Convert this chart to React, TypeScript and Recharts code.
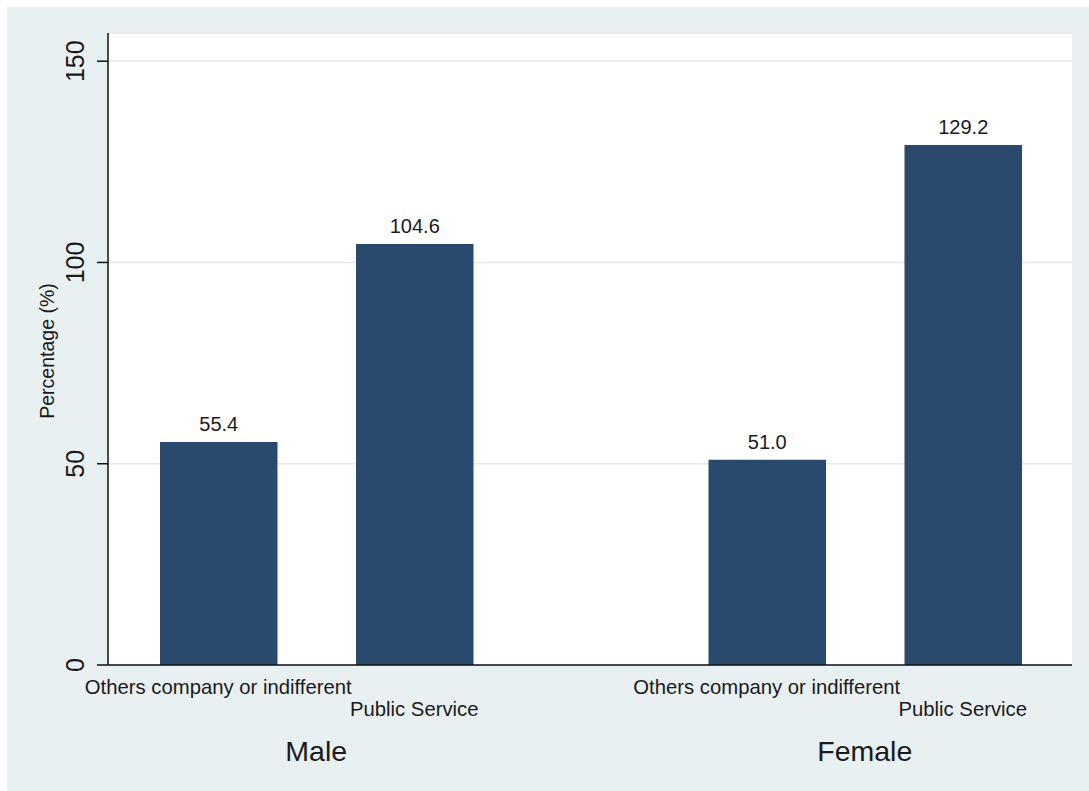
import * as React from 'react'
import { Bar, BarChart, CartesianGrid, LabelList, XAxis, YAxis } from 'recharts'

const groups = ['Male', 'Female']
const subLabels = ['Others company or indifferent', 'Public Service']
const othersValues = [55.4, 51.0]
const publicValues = [104.6, 129.2]
const yTicks = [0, 50, 100, 150]

const data = groups.map((g, i) => ({
  group: g,
  others: othersValues[i],
  publicService: publicValues[i],
}))

const FONT = '"Liberation Sans", Arial, Helvetica, sans-serif'
const BAR_COLOR = '#294a6d'
const TEXT = '#1a1a1a'
const BAR_SIZE = 117.5
const BAR_GAP = 78.5
const HALF_STEP = (BAR_SIZE + BAR_GAP) / 2

function GroupTick(props: any) {
  const { x, y, payload } = props
  return (
    <g fontFamily={FONT} fill={TEXT}>
      <text x={x - HALF_STEP} y={y + 28.5} textAnchor="middle" fontSize={20.3}>
        {subLabels[0]}
      </text>
      <text x={x + HALF_STEP} y={y + 50.7} textAnchor="middle" fontSize={20.3}>
        {subLabels[1]}
      </text>
      <text x={x} y={y + 96} textAnchor="middle" fontSize={28.5}>
        {payload.value}
      </text>
    </g>
  )
}

function ValueTick(props: any) {
  const { x, y, payload } = props
  const bx = x - 13
  return (
    <text
      x={bx}
      y={y}
      transform={`rotate(-90, ${bx}, ${y})`}
      textAnchor="middle"
      fontSize={25}
      fontFamily={FONT}
      fill={TEXT}
    >
      {payload.value}
    </text>
  )
}

function AxisTitle(props: any) {
  const vb = props.viewBox || { x: 0, y: 26, width: 101, height: 632 }
  const tx = vb.x + 47
  const ty = vb.y + vb.height / 2 + 2
  return (
    <text
      x={tx}
      y={ty}
      transform={`rotate(-90, ${tx}, ${ty})`}
      textAnchor="middle"
      fontSize={19.5}
      fontFamily={FONT}
      fill={TEXT}
    >
      Percentage (%)
    </text>
  )
}

export default function App() {
  return (
    <div
      style={{
        position: 'absolute',
        left: 7,
        top: 7,
        width: 1082,
        height: 784,
        background: '#e9f0f2',
      }}
    >
      <BarChart
        width={1082}
        height={784}
        data={data}
        barSize={BAR_SIZE}
        barGap={BAR_GAP}
        margin={{ top: 26, right: 17, bottom: 0, left: 0 }}
      >
        <CartesianGrid vertical={false} stroke="#e4e9ec" strokeWidth={1.5} fill="#ffffff" />
        <XAxis
          dataKey="group"
          height={126}
          interval={0}
          tickLine={false}
          tickSize={0}
          tickMargin={0}
          axisLine={{ stroke: '#111', strokeWidth: 1.5 }}
          padding={{ left: -66, right: -67 }}
          tick={<GroupTick />}
        />
        <YAxis
          width={101}
          domain={[0, 157]}
          ticks={yTicks}
          interval={0}
          tickSize={11}
          tickMargin={0}
          tickLine={{ stroke: '#111', strokeWidth: 1.5 }}
          axisLine={{ stroke: '#111', strokeWidth: 1.5 }}
          tick={<ValueTick />}
          label={{ content: <AxisTitle /> }}
        />
        <Bar dataKey="others" fill={BAR_COLOR} isAnimationActive={false}>
          <LabelList
            dataKey="others"
            position="top"
            offset={11}
            fontSize={20}
            fontFamily={FONT}
            fill={TEXT}
            formatter={(v: any) => Number(v).toFixed(1)}
          />
        </Bar>
        <Bar dataKey="publicService" fill={BAR_COLOR} isAnimationActive={false}>
          <LabelList
            dataKey="publicService"
            position="top"
            offset={11}
            fontSize={20}
            fontFamily={FONT}
            fill={TEXT}
            formatter={(v: any) => Number(v).toFixed(1)}
          />
        </Bar>
      </BarChart>
    </div>
  )
}
